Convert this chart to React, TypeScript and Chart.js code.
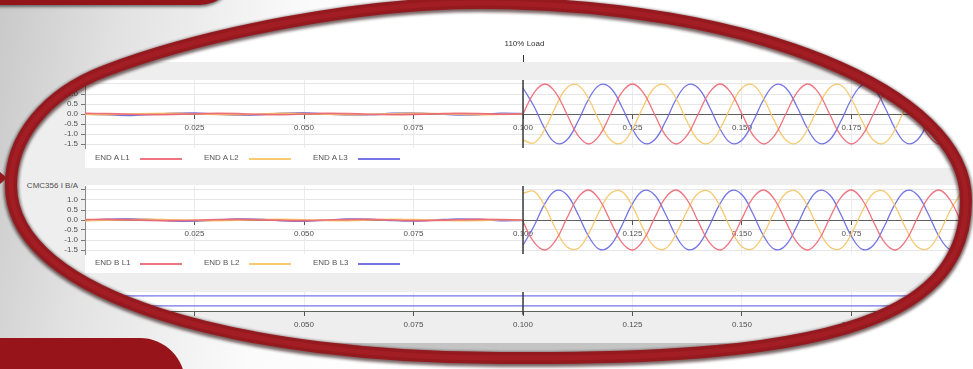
import React, { useEffect, useRef } from 'react';
import { Chart, registerables } from 'chart.js';

Chart.register(...registerables);

const FONT = '"Liberation Sans", Arial, sans-serif';

// ---------- data ----------
const noiseTime = [0, 0.005, 0.01, 0.015, 0.02, 0.025, 0.03, 0.035, 0.04, 0.045, 0.05, 0.055, 0.06, 0.065, 0.07, 0.075, 0.08, 0.085, 0.09, 0.095, 0.0998];
const waveTime = [0.1, 0.1025, 0.105, 0.1075, 0.11, 0.1125, 0.115, 0.1175, 0.12, 0.1225, 0.125, 0.1275, 0.13, 0.1325, 0.135, 0.1375, 0.14, 0.1425, 0.145, 0.1475, 0.15, 0.1525, 0.155, 0.1575, 0.16, 0.1625, 0.165, 0.1675, 0.17, 0.1725, 0.175, 0.1775, 0.18, 0.1825, 0.185, 0.1875, 0.19, 0.1925, 0.195, 0.1975, 0.2];

const xTicks = [0, 0.025, 0.05, 0.075, 0.1, 0.125, 0.15, 0.175, 0.2];
const xTickLabels = ['', '0.025', '0.050', '0.075', '0.100', '0.125', '0.150', '0.175', ''];
const yTicks = [-1.5, -1.0, -0.5, 0, 0.5, 1.0, 1.5];
const yTickLabelsA = ['-1.5', '-1.0', '-0.5', '0.0', '0.5', '1.0', '1.5'];
const yTickLabelsB = ['-1.5', '-1.0', '-0.5', '0.0', '0.5', '1.0', ''];

const markerTime = 0.1;
const markerText = '110% Load';
const titleB = 'CMC356 I B/A';

const seriesA = ['END A L1', 'END A L2', 'END A L3'];
const seriesB = ['END B L1', 'END B L2', 'END B L3'];

// END A, before the load step
const noiseA_L1 = [0.03, 0.02, -0.01, -0.03, -0.02, 0.01, 0.03, 0.02, -0.02, -0.03, 0.0, 0.03, 0.02, -0.01, -0.03, -0.02, 0.01, 0.03, 0.02, -0.01, 0.0];
const noiseA_L2 = [-0.02, -0.03, 0.0, 0.02, 0.03, 0.01, -0.02, -0.03, 0.0, 0.03, 0.02, -0.01, -0.03, -0.02, 0.01, 0.03, 0.02, -0.01, -0.03, -0.02, 0.0];
const noiseA_L3 = [0.0, -0.04, -0.07, -0.02, 0.04, 0.05, -0.01, -0.06, -0.03, 0.04, 0.06, 0.0, -0.05, -0.04, 0.03, 0.05, 0.01, -0.05, -0.03, 0.03, 0.02];
// END A, after the load step
const waveA_L1 = [0, 1.06, 1.5, 1.06, 0, -1.06, -1.5, -1.06, 0, 1.06, 1.5, 1.06, 0, -1.06, -1.5, -1.06, 0, 1.06, 1.5, 1.06, 0, -1.06, -1.5, -1.06, 0, 1.06, 1.5, 1.06, 0, -1.06, -1.5, -1.06, 0, 1.06, 1.5, 1.06, 0, -1.06, -1.5, -1.06, 0];
const waveA_L2 = [-1.3, -1.45, -0.75, 0.39, 1.3, 1.45, 0.75, -0.39, -1.3, -1.45, -0.75, 0.39, 1.3, 1.45, 0.75, -0.39, -1.3, -1.45, -0.75, 0.39, 1.3, 1.45, 0.75, -0.39, -1.3, -1.45, -0.75, 0.39, 1.3, 1.45, 0.75, -0.39, -1.3, -1.45, -0.75, 0.39, 1.3, 1.45, 0.75, -0.39, -1.3];
const waveA_L3 = [1.3, 0.39, -0.75, -1.45, -1.3, -0.39, 0.75, 1.45, 1.3, 0.39, -0.75, -1.45, -1.3, -0.39, 0.75, 1.45, 1.3, 0.39, -0.75, -1.45, -1.3, -0.39, 0.75, 1.45, 1.3, 0.39, -0.75, -1.45, -1.3, -0.39, 0.75, 1.45, 1.3, 0.39, -0.75, -1.45, -1.3, -0.39, 0.75, 1.45, 1.3];

// END B, before the load step
const noiseB_L1 = [0.02, 0.03, 0.01, -0.02, -0.03, -0.01, 0.02, 0.03, 0.01, -0.02, -0.03, 0.0, 0.02, 0.03, 0.0, -0.03, -0.02, 0.01, 0.03, 0.02, 0.0];
const noiseB_L2 = [-0.03, -0.01, 0.02, 0.03, 0.01, -0.02, -0.03, -0.01, 0.02, 0.03, 0.01, -0.02, -0.03, 0.0, 0.03, 0.02, -0.01, -0.03, -0.02, 0.01, 0.0];
const noiseB_L3 = [-0.02, 0.03, 0.06, 0.02, -0.05, -0.06, 0.0, 0.05, 0.04, -0.03, -0.06, -0.01, 0.05, 0.04, -0.02, -0.05, 0.0, 0.05, 0.03, -0.03, -0.02];
// END B, after the load step
const waveB_L1 = [-0.08, -1.11, -1.5, -1.0, 0.08, 1.11, 1.5, 1.0, -0.08, -1.11, -1.5, -1.0, 0.08, 1.11, 1.5, 1.0, -0.08, -1.11, -1.5, -1.0, 0.08, 1.11, 1.5, 1.0, -0.08, -1.11, -1.5, -1.0, 0.08, 1.11, 1.5, 1.0, -0.08, -1.11, -1.5, -1.0, 0.08, 1.11, 1.5, 1.0, -0.08];
const waveB_L2 = [1.34, 1.43, 0.68, -0.46, -1.34, -1.43, -0.68, 0.46, 1.34, 1.43, 0.68, -0.46, -1.34, -1.43, -0.68, 0.46, 1.34, 1.43, 0.68, -0.46, -1.34, -1.43, -0.68, 0.46, 1.34, 1.43, 0.68, -0.46, -1.34, -1.43, -0.68, 0.46, 1.34, 1.43, 0.68, -0.46, -1.34, -1.43, -0.68, 0.46, 1.34];
const waveB_L3 = [-1.26, -0.31, 0.82, 1.47, 1.26, 0.31, -0.82, -1.47, -1.26, -0.31, 0.82, 1.47, 1.26, 0.31, -0.82, -1.47, -1.26, -0.31, 0.82, 1.47, 1.26, 0.31, -0.82, -1.47, -1.26, -0.31, 0.82, 1.47, 1.26, 0.31, -0.82, -1.47, -1.26, -0.31, 0.82, 1.47, 1.26, 0.31, -0.82, -1.47, -1.26];

// third (status) trace panel
const statusTime = [0, 0.2];
const statusUpper = [3.2, 3.2];
const statusLower = [1.1, 1.1];

// ---------- styles ----------
const lineColors = ['rgba(238,104,116,0.92)', 'rgba(247,198,104,0.95)', 'rgba(104,104,228,0.92)'];
const ELLIPSE_PATH = 'M 11 185 C 11 138 45 94 105 71 C 205 33 360 3 480 3 C 748 3 966 91 966 200 C 966 330 800 360 500 358 C 250 358 11 300 11 185 Z';

const markerLabelPlugin = {
  id: 'markerLabel',
  afterDraw(chart: any, _args: any, opts: any) {
    if (!opts || !opts.text) return;
    const x = Math.round(chart.scales.x.getPixelForValue(opts.value)) + 0.5;
    const top = chart.chartArea.top;
    const ctx = chart.ctx;
    ctx.save();
    ctx.fillStyle = '#333';
    ctx.font = '8px ' + FONT;
    ctx.textAlign = 'center';
    ctx.textBaseline = 'middle';
    ctx.fillText(opts.text, x + 1, top - 36);
    ctx.strokeStyle = '#333';
    ctx.lineWidth = 1;
    ctx.beginPath();
    ctx.moveTo(x, top - 25);
    ctx.lineTo(x, top - 18);
    ctx.stroke();
    ctx.restore();
  },
};

const xScale = (labels: string[]) => ({
  type: 'linear',
  min: 0,
  max: 0.2,
  position: { y: 0 },
  afterBuildTicks: (s: any) => {
    s.ticks = xTicks.map((v) => ({ value: v }));
  },
  ticks: {
    autoSkip: false,
    maxRotation: 0,
    padding: 5,
    color: '#505050',
    font: { size: 8, family: FONT },
    callback: (_v: any, i: number) => labels[i],
  },
  grid: { color: '#ebebeb', tickColor: '#555', tickLength: 4 },
  border: { color: '#606060', width: 1 },
});

function waveConfig(noise: number[][], waves: number[][], yLabels: string[], withLabel: boolean, padTop: number) {
  const datasets: any[] = [
    {
      data: [{ x: markerTime, y: -1.7 }, { x: markerTime, y: 1.7 }],
      borderColor: '#3a3a3a',
      borderWidth: 1.5,
      pointRadius: 0,
      tension: 0,
    },
  ];
  waves.forEach((vals, i) =>
    datasets.push({
      data: waveTime.map((t, j) => ({ x: t, y: vals[j] })),
      borderColor: lineColors[i],
      borderWidth: 1.3,
      pointRadius: 0,
      tension: 0.4,
    })
  );
  noise.forEach((vals, i) =>
    datasets.push({
      data: noiseTime.map((t, j) => ({ x: t, y: vals[j] })),
      borderColor: lineColors[i],
      borderWidth: 1.6,
      pointRadius: 0,
      tension: 0.3,
    })
  );
  return {
    type: 'line',
    data: { datasets },
    plugins: [markerLabelPlugin],
    options: {
      animation: false,
      responsive: false,
      events: [],
      layout: { padding: { top: padTop, bottom: 10, left: 0, right: 15 } },
      plugins: {
        legend: { display: false },
        tooltip: { enabled: false },
        markerLabel: withLabel ? { text: markerText, value: markerTime } : {},
      },
      scales: {
        x: xScale(xTickLabels),
        y: {
          type: 'linear',
          min: -1.7,
          max: 1.7,
          afterBuildTicks: (s: any) => {
            s.ticks = yTicks.map((v) => ({ value: v }));
          },
          afterFit: (s: any) => {
            s.width = 30;
          },
          ticks: {
            autoSkip: false,
            padding: 3,
            color: '#505050',
            font: { size: 8, family: FONT },
            callback: (_v: any, i: number) => yLabels[i],
          },
          grid: { color: '#e6e6e6', tickColor: '#777', tickLength: 4 },
          border: { color: '#8a8a8a' },
        },
      },
    },
  };
}

function statusConfig() {
  return {
    type: 'line',
    data: {
      datasets: [
        {
          data: [{ x: markerTime, y: -0.8 }, { x: markerTime, y: 4 }],
          borderColor: '#3a3a3a',
          borderWidth: 1.5,
          pointRadius: 0,
          clip: false,
        },
        {
          data: statusTime.map((t, j) => ({ x: t, y: statusUpper[j] })),
          borderColor: lineColors[2],
          borderWidth: 1.3,
          pointRadius: 0,
        },
        {
          data: statusTime.map((t, j) => ({ x: t, y: statusLower[j] })),
          borderColor: lineColors[2],
          borderWidth: 1.3,
          pointRadius: 0,
        },
      ],
    },
    options: {
      animation: false,
      responsive: false,
      events: [],
      layout: { padding: { top: 10, bottom: 20, left: 30, right: 15 } },
      plugins: { legend: { display: false }, tooltip: { enabled: false } },
      scales: {
        x: xScale(xTickLabels),
        y: { type: 'linear', min: 0, max: 4, display: false },
      },
    },
  };
}

function ChartCanvas({ build, left, top, width, height }: any) {
  const ref = useRef<HTMLCanvasElement>(null);
  useEffect(() => {
    const chart = new Chart(ref.current as HTMLCanvasElement, build() as any);
    return () => chart.destroy();
  }, []);
  return (
    <canvas
      ref={ref}
      width={width}
      height={height}
      style={{ position: 'absolute', left, top, width, height }}
    />
  );
}

function Legend({ names, top }: { names: string[]; top: number }) {
  return (
    <>
      {names.map((n, i) => (
        <div
          key={n}
          style={{
            position: 'absolute',
            left: 95 + 109 * i,
            top,
            height: 10,
            lineHeight: '10px',
            font: '8px ' + FONT,
            color: '#555',
            whiteSpace: 'nowrap',
          }}
        >
          {n}
          <span
            style={{
              position: 'absolute',
              left: 45,
              top: 5,
              width: 42,
              height: 1.5,
              background: lineColors[i],
            }}
          />
        </div>
      ))}
    </>
  );
}

export default function App() {
  const abs = (s: any) => ({ position: 'absolute', ...s });
  return (
    <div
      style={{
        position: 'fixed',
        left: 0,
        top: 0,
        width: 973,
        height: 369,
        overflow: 'hidden',
        background: 'linear-gradient(100deg, #c9c9c9 0%, #e2e2e2 12%, #fbfbfb 30%, #ffffff 45%)',
      }}
    >
      {/* screenshot, clipped to the ellipse */}
      <div style={abs({ left: 0, top: 0, width: 973, height: 369, background: '#eeeeee', clipPath: `path('${ELLIPSE_PATH}')` })}>
        <div style={abs({ left: 0, top: 0, width: 973, height: 62, background: '#ffffff' })} />
        <div style={abs({ left: 85, top: 80, width: 888, height: 88, background: '#ffffff' })} />
        <div style={abs({ left: 85, top: 185, width: 888, height: 88, background: '#ffffff' })} />
        <div style={abs({ left: 85, top: 292, width: 888, height: 19, background: '#ffffff' })} />
        <div style={abs({ left: 0, top: 343, width: 973, height: 30, background: '#c4c4c4' })} />

        <ChartCanvas
          build={() => waveConfig([noiseA_L1, noiseA_L2, noiseA_L3], [waveA_L1, waveA_L2, waveA_L3], yTickLabelsA, true, 50)}
          left={55}
          top={30}
          width={921}
          height={128}
        />
        <Legend names={seriesA} top={153} />

        <div style={abs({ left: 0, width: 78, top: 181, height: 10, lineHeight: '10px', textAlign: 'right', font: '8px ' + FONT, color: '#505050', whiteSpace: 'nowrap' })}>
          {titleB}
        </div>
        <ChartCanvas
          build={() => waveConfig([noiseB_L1, noiseB_L2, noiseB_L3], [waveB_L1, waveB_L2, waveB_L3], yTickLabelsB, false, 10)}
          left={55}
          top={176}
          width={921}
          height={88}
        />
        <Legend names={seriesB} top={258} />

        <ChartCanvas build={statusConfig} left={55} top={282} width={921} height={49} />
      </div>

      {/* decorative frame */}
      <div style={abs({ left: -10, top: -30, width: 245, height: 35, background: '#921519', borderBottomRightRadius: 40, boxShadow: '0 2px 3px rgba(0,0,0,0.5)' })} />
      <div style={abs({ left: -5, top: 338, width: 190, height: 45, background: '#96141a', borderTopRightRadius: 46 })} />
      <svg width={973} height={369} style={{ position: 'absolute', left: 0, top: 0, pointerEvents: 'none' }}>
        <defs>
          <filter id="blur" x="-5%" y="-5%" width="110%" height="110%">
            <feGaussianBlur stdDeviation="1.6" />
          </filter>
        </defs>
        <path d={ELLIPSE_PATH} fill="none" stroke="rgba(30,0,0,0.6)" strokeWidth={15} filter="url(#blur)" transform="translate(0,1.5)" />
        <path d={ELLIPSE_PATH} fill="none" stroke="#951a1f" strokeWidth={12} />
        <path d={ELLIPSE_PATH} fill="none" stroke="#ac2228" strokeWidth={5} opacity={0.6} />
        <polygon points="0,172 7,178 0,184" fill="#951a1f" />
      </svg>
    </div>
  );
}
